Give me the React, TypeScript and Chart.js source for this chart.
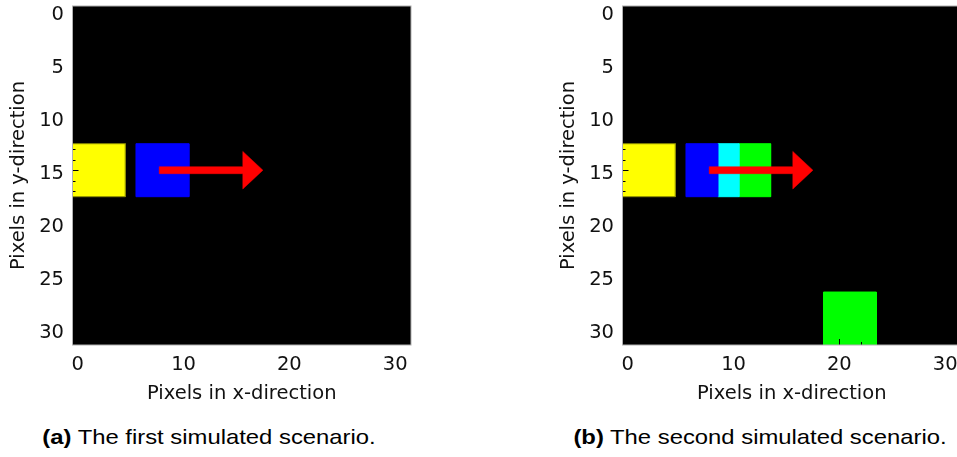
import React, { useEffect, useRef } from 'react';
import { Chart, registerables } from 'chart.js';

Chart.register(...registerables);

// ---------- data ----------
// image extent: 32 x 32 pixels, centres at 0..31
const gridMin = -0.5;
const gridMax = 31.5;
const xTickStep = 10;
const yTickStep = 5;
const xMinorStep = 2;
const yMinorStep = 1;

// scenario (a): coloured pixel blocks, [first column, last column] and [first row, last row]
const blocksANames = ['yellow', 'blue'];
const blocksACols = [[0, 4], [6, 10]];
const blocksARows = [[13, 17], [13, 17]];

// scenario (b)
const blocksBNames = ['yellow', 'blue', 'cyan', 'green', 'green'];
const blocksBCols = [[0, 4], [6, 8], [9, 10], [11, 13], [19, 23]];
const blocksBRows = [[13, 17], [13, 17], [13, 17], [13, 17], [27, 31]];

// motion arrow (both scenarios), in pixel units
const arrowTailX = 7.7;
const arrowTipX = 17.5;
const arrowRow = 15;

const captionTags = ['(a)', '(b)'];
const captionTexts = [' The first simulated scenario.', ' The second simulated scenario.'];
const xTitle = 'Pixels in x-direction';
const yTitle = 'Pixels in y-direction';

// ---------- styles ----------
const blockColors: Record<string, string> = {
  yellow: '#ffff00',
  blue: '#0000ff',
  cyan: '#00ffff',
  green: '#00ff00',
};
const blockEdge: Record<string, string> = {
  yellow: '#8c8c00',
  blue: '#0000ff',
  cyan: '#00ffff',
  green: '#00ff00',
};
const arrowColor = '#ff0000';
const arrowShaft = 0.66;
const arrowHeadWidth = 3.55;
const arrowHeadLength = 1.9;
const axisFont = { family: 'DejaVu Sans', size: 19.5 };
const textColor = '#111111';
const spineColor = '#b0b0b0';

function blockDataset(name: string, cols: number[], rows: number[]) {
  const x0 = cols[0] - 0.5;
  const x1 = cols[1] + 0.5;
  const y0 = rows[0] - 0.5;
  const y1 = rows[1] + 0.5;
  return {
    label: name,
    data: [
      { x: x0, y: y0 },
      { x: x1, y: y0 },
      { x: x1, y: y1 },
      { x: x0, y: y1 },
      { x: x0, y: y0 },
    ],
    showLine: true,
    fill: 'shape',
    backgroundColor: blockColors[name],
    borderColor: blockEdge[name],
    borderWidth: 1,
    pointRadius: 0,
    tension: 0,
    order: 1,
  };
}

function arrowDataset() {
  const hs = arrowShaft / 2;
  const hh = arrowHeadWidth / 2;
  const base = arrowTipX - arrowHeadLength;
  return {
    label: 'motion',
    data: [
      { x: arrowTailX, y: arrowRow - hs },
      { x: base, y: arrowRow - hs },
      { x: base, y: arrowRow - hh },
      { x: arrowTipX, y: arrowRow },
      { x: base, y: arrowRow + hh },
      { x: base, y: arrowRow + hs },
      { x: arrowTailX, y: arrowRow + hs },
      { x: arrowTailX, y: arrowRow - hs },
    ],
    showLine: true,
    fill: 'shape',
    backgroundColor: arrowColor,
    borderColor: arrowColor,
    borderWidth: 0.5,
    pointRadius: 0,
    tension: 0,
    order: 0,
  };
}

const imageFramePlugin = {
  id: 'imageFrame',
  beforeDatasetsDraw(chart: any) {
    const { ctx, chartArea } = chart;
    ctx.save();
    ctx.fillStyle = '#000000';
    ctx.fillRect(chartArea.left, chartArea.top, chartArea.right - chartArea.left, chartArea.bottom - chartArea.top);
    ctx.restore();
  },
  afterDatasetsDraw(chart: any) {
    const { ctx, chartArea, scales } = chart;
    const xs = scales.x;
    const ys = scales.y;
    ctx.save();
    ctx.strokeStyle = '#000000';
    ctx.lineWidth = 1;
    ctx.beginPath();
    for (let v = 0; v <= gridMax; v += xMinorStep) {
      const px = Math.round(xs.getPixelForValue(v)) + 0.5;
      const len = v % xTickStep === 0 ? 6 : 3;
      ctx.moveTo(px, chartArea.bottom);
      ctx.lineTo(px, chartArea.bottom - len);
    }
    for (let v = 0; v <= gridMax; v += yMinorStep) {
      const py = Math.round(ys.getPixelForValue(v)) + 0.5;
      const len = v % yTickStep === 0 ? 6 : 3;
      ctx.moveTo(chartArea.left, py);
      ctx.lineTo(chartArea.left + len, py);
    }
    ctx.stroke();
    ctx.strokeStyle = spineColor;
    ctx.lineWidth = 1;
    ctx.strokeRect(chartArea.left, chartArea.top, chartArea.right - chartArea.left, chartArea.bottom - chartArea.top);
    ctx.restore();
  },
};

const CW = 430;
const CH = 410;
const X_AXIS_BOTTOM = 405.2;

function Panel(props: { names: string[]; cols: number[][]; rows: number[][]; left: number }) {
  const ref = useRef<HTMLCanvasElement>(null);
  useEffect(() => {
    const datasets: any[] = [arrowDataset()];
    props.names.forEach((n, i) => datasets.push(blockDataset(n, props.cols[i], props.rows[i])));
    const chart = new Chart(ref.current as HTMLCanvasElement, {
      type: 'scatter',
      data: { datasets },
      options: {
        animation: false,
        responsive: false,
        events: [],
        layout: { padding: { left: 0, top: 6, right: CW - 411, bottom: CH - X_AXIS_BOTTOM } },
        plugins: { legend: { display: false }, tooltip: { enabled: false } },
        scales: {
          x: {
            type: 'linear',
            position: 'bottom',
            min: gridMin,
            max: gridMax,
            grid: { display: false, drawTicks: false },
            border: { display: false },
            ticks: {
              stepSize: xTickStep,
              includeBounds: false,
              autoSkip: false,
              maxRotation: 0,
              padding: 8,
              color: textColor,
              font: axisFont,
            },
            title: { display: true, text: xTitle, color: textColor, font: axisFont, padding: 0 },
            afterFit(s: any) {
              s.height = X_AXIS_BOTTOM - 345;
              s.paddingLeft = 0;
              s.paddingRight = 0;
            },
          },
          y: {
            type: 'linear',
            position: 'left',
            reverse: true,
            min: gridMin,
            max: gridMax,
            grid: { display: false, drawTicks: false },
            border: { display: false },
            ticks: {
              stepSize: yTickStep,
              includeBounds: false,
              autoSkip: false,
              padding: 8.5,
              labelOffset: 4.1,
              color: textColor,
              font: axisFont,
            },
            title: { display: true, text: yTitle, color: textColor, font: axisFont, padding: { top: 7.5, bottom: 0 } },
            afterFit(s: any) {
              s.width = 72.5;
              s.paddingTop = 0;
              s.paddingBottom = 0;
            },
          },
        },
      } as any,
      plugins: [imageFramePlugin],
    });
    return () => chart.destroy();
  }, []);
  return (
    <canvas
      ref={ref}
      width={CW}
      height={CH}
      style={{ position: 'absolute', left: props.left, top: 0, width: CW, height: CH }}
    />
  );
}

function Caption(props: { tag: string; text: string; center: number }) {
  return (
    <div
      style={{
        position: 'absolute',
        left: props.center - 250,
        width: 500,
        top: 425.5,
        textAlign: 'center',
        fontFamily: '"Liberation Sans", Arial, sans-serif',
        fontSize: 21,
        lineHeight: '21px',
        color: '#000',
        whiteSpace: 'nowrap',
        transform: 'scaleX(1.135)',
        transformOrigin: '50% 50%',
      }}
    >
      <b>{props.tag}</b>
      {props.text}
    </div>
  );
}

export default function App() {
  return (
    <div
      style={{
        position: 'fixed',
        left: 0,
        top: 0,
        width: 957,
        height: 457,
        overflow: 'hidden',
        background: '#fff',
      }}
    >
      <Panel names={blocksANames} cols={blocksACols} rows={blocksARows} left={0} />
      <Panel names={blocksBNames} cols={blocksBCols} rows={blocksBRows} left={550} />
      <Caption tag={captionTags[0]} text={captionTexts[0]} center={209} />
      <Caption tag={captionTags[1]} text={captionTexts[1]} center={760} />
    </div>
  );
}
